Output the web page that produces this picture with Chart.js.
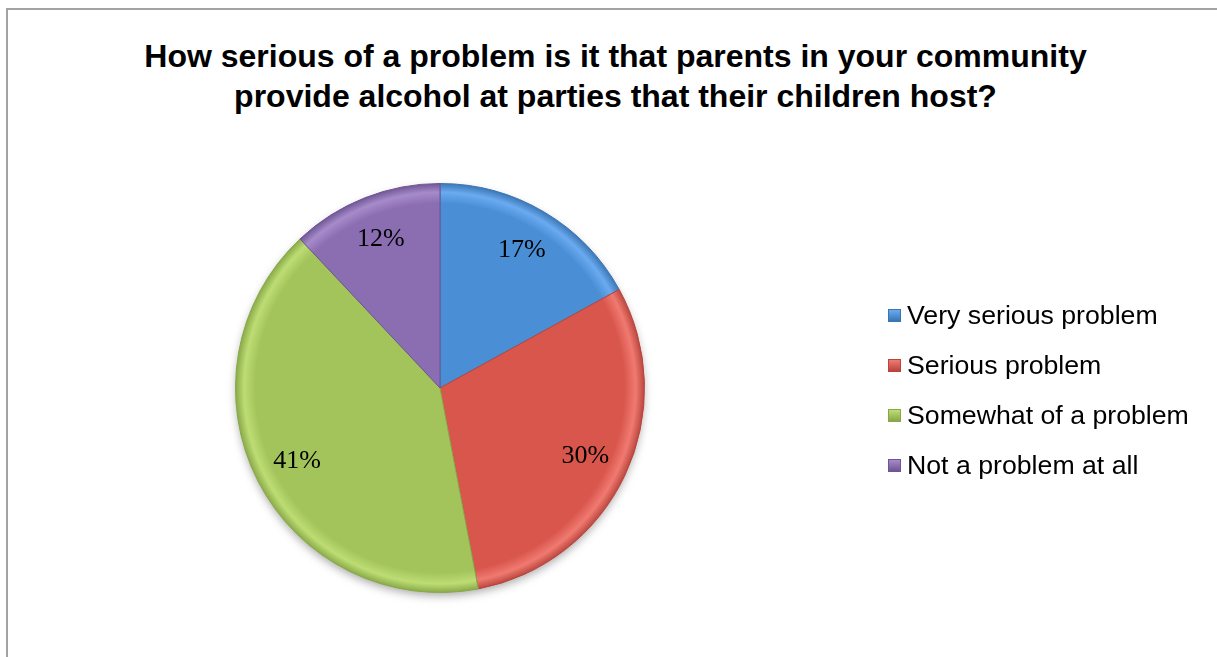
<!DOCTYPE html>
<html lang="en">
<head>
  <meta charset="UTF-8">
  <title>Parents providing alcohol – survey</title>
  <script src="https://cdn.jsdelivr.net/npm/chart.js"></script>
  <style>
    html, body { margin: 0; padding: 0; background: #fff; }
    body { width: 1217px; height: 657px; position: relative; overflow: hidden; font-family: 'Liberation Sans', Arial, sans-serif; }

    /* Outer chart frame */
    .frame { position: absolute; left: 6px; top: 8px; width: 1230px; height: 680px; border: 2px solid #a3a3a3; box-sizing: border-box; }

    /* Title */
    .title { position: absolute; left: 0; width: 1231px; top: 36px; text-align: center; font-weight: bold; font-size: 32px; line-height: 40px; color: #000; }

    /* Pie canvas */
    .pie-wrap { position: absolute; left: 0; top: 0; width: 1217px; height: 657px; }

    /* Legend */
    .legend { position: absolute; left: 888px; top: 290px; }
    .legend-item { height: 50px; display: flex; align-items: center; font-size: 26.7px; color: #000; }
    .legend-item .box { width: 13px; height: 13px; margin-right: 6px; box-sizing: border-box; }
  </style>
</head>
<body>
  <div class="frame"></div>
  <div class="title">How serious of a problem is it that parents in your community<br>provide alcohol at parties that their children host?</div>
  <div class="pie-wrap"><canvas id="pieChart" width="1217" height="657"></canvas></div>
  <div class="legend" id="legend"></div>

  <script>
    // Data
    const categories = ['Very serious problem', 'Serious problem', 'Somewhat of a problem', 'Not a problem at all'];
    const percents = [17, 30, 41, 12];

    // Slice colours: base, highlight, edge
    const baseColors  = ['#4a8fd6', '#d9564d', '#a2c45a', '#8b6db1'];
    const lightColors = ['#6aaaf0', '#f07a70', '#bddd74', '#a68bcb'];
    const darkColors  = ['#3a75b3', '#b8443d', '#88a848', '#6f5594'];

    // Legend built from the same arrays
    const legend = document.getElementById('legend');
    categories.forEach((c, i) => {
      const row = document.createElement('div');
      row.className = 'legend-item';
      row.innerHTML = `<span class="box" style="background:linear-gradient(${lightColors[i]}, ${darkColors[i]});border:1px solid ${darkColors[i]}"></span>${c}`;
      legend.appendChild(row);
    });

    // Bevelled fill: flat body, light rim, dark edge
    function sliceFill(ctx) {
      const i = ctx.dataIndex;
      const area = ctx.chart.chartArea;
      if (!area) return baseColors[i];
      const cx = (area.left + area.right) / 2;
      const cy = (area.top + area.bottom) / 2;
      const r = Math.min(area.right - area.left, area.bottom - area.top) / 2;
      const g = ctx.chart.ctx.createRadialGradient(cx, cy, 0, cx, cy, r);
      g.addColorStop(0, baseColors[i]);
      g.addColorStop(0.9, baseColors[i]);
      g.addColorStop(0.955, lightColors[i]);
      g.addColorStop(1, darkColors[i]);
      return g;
    }

    // Soft shadow under the pie
    const pieShadow = {
      id: 'pieShadow',
      beforeDatasetsDraw(chart) {
        const arc = chart.getDatasetMeta(0).data[0];
        if (!arc) return;
        const c = chart.ctx;
        c.save();
        c.shadowColor = 'rgba(0,0,0,0.35)';
        c.shadowBlur = 10;
        c.shadowOffsetY = 4;
        c.beginPath();
        c.arc(arc.x, arc.y, arc.outerRadius - 1, 0, Math.PI * 2);
        c.fillStyle = '#fff';
        c.fill();
        c.restore();
      }
    };

    // Percentage labels inside each slice
    const sliceLabels = {
      id: 'sliceLabels',
      afterDatasetsDraw(chart) {
        const c = chart.ctx;
        c.save();
        c.font = '26px "Liberation Serif", "Times New Roman", serif';
        c.fillStyle = '#000';
        c.textAlign = 'center';
        c.textBaseline = 'middle';
        chart.getDatasetMeta(0).data.forEach((arc, i) => {
          const mid = (arc.startAngle + arc.endAngle) / 2;
          const rr = arc.outerRadius * 0.785;
          c.fillText(percents[i] + '%', arc.x + Math.cos(mid) * rr, arc.y + Math.sin(mid) * rr);
        });
        c.restore();
      }
    };

    new Chart(document.getElementById('pieChart'), {
      type: 'pie',
      data: {
        labels: categories,
        datasets: [{
          data: percents,
          backgroundColor: sliceFill,
          borderColor: darkColors,
          borderWidth: 1
        }]
      },
      options: {
        responsive: false,
        animation: false,
        layout: { padding: { left: 235, right: 572, top: 183, bottom: 64 } },
        plugins: { legend: { display: false }, tooltip: { enabled: false }, title: { display: false } }
      },
      plugins: [pieShadow, sliceLabels]
    });
  </script>
</body>
</html>
